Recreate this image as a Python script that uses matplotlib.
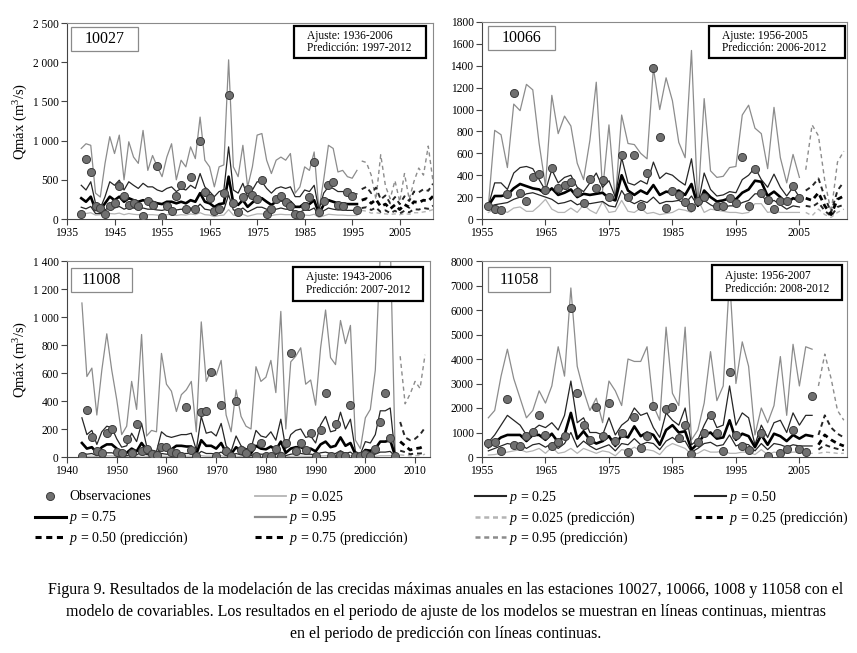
import numpy as np
import matplotlib
matplotlib.use('Agg')
import matplotlib.pyplot as plt
from matplotlib.patches import Rectangle
from matplotlib.lines import Line2D
from matplotlib.ticker import FuncFormatter

plt.rcParams['font.family'] = ['Liberation Serif', 'DejaVu Serif']
plt.rcParams['mathtext.fontset'] = 'custom'
plt.rcParams['mathtext.rm'] = 'Liberation Serif'
plt.rcParams['mathtext.it'] = 'Liberation Serif:italic'

W, H = 857, 653

# ---------------- estación 10027 ----------------
fit1 = list(range(1938, 1997))
p95_1 = [900, 960, 940, 330, 280, 710, 1050, 835, 1070, 500,
         985, 790, 710, 1130, 620, 810, 665, 540, 790, 960,
         500, 750, 665, 920, 770, 1300, 750, 665, 410, 665,
         690, 2030, 665, 540, 940, 410, 665, 1070, 1090, 750,
         580, 750, 790, 750, 835, 330, 410, 665, 620, 855,
         115, 500, 940, 900, 600, 620, 540, 520, 620]
p75_1 = [430, 370, 475, 200, 135, 285, 475, 430, 495, 370,
         475, 430, 390, 455, 410, 410, 370, 350, 390, 410,
         350, 390, 370, 430, 390, 580, 410, 350, 285, 350,
         370, 920, 370, 330, 455, 285, 370, 475, 475, 390,
         330, 390, 410, 390, 410, 285, 285, 370, 350, 430,
         115, 330, 410, 390, 350, 350, 330, 330, 320]
p50_1 = [265, 220, 285, 115, 115, 200, 285, 240, 285, 220,
         265, 240, 220, 240, 220, 220, 200, 190, 220, 220,
         200, 220, 200, 240, 220, 330, 220, 200, 155, 190,
         200, 540, 200, 180, 240, 155, 210, 265, 265, 220,
         180, 220, 240, 220, 220, 155, 155, 200, 190, 240,
         70, 180, 240, 220, 200, 200, 190, 190, 190]
p25_1 = [150, 130, 160, 70, 70, 115, 160, 140, 160, 125,
         150, 140, 125, 140, 125, 125, 115, 110, 125, 125,
         115, 125, 115, 140, 125, 190, 125, 115, 90, 110,
         115, 310, 115, 105, 140, 90, 120, 150, 150, 125,
         105, 125, 140, 125, 125, 90, 90, 115, 110, 140,
         40, 105, 140, 125, 115, 115, 110, 110, 110]
p025_1 = [40, 70, 80, 50, 55, 60, 70, 65, 75, 55,
          70, 60, 55, 65, 55, 55, 50, 45, 55, 60,
          45, 55, 50, 65, 55, 80, 55, 50, 30, 45,
          50, 120, 50, 40, 60, 35, 50, 65, 65, 55,
          45, 55, 60, 55, 55, 35, 35, 50, 45, 60,
          20, 40, 60, 55, 50, 50, 45, 45, 45]
pred1 = list(range(1997, 2013))
pp95_1 = [740, 720, 560, 250, 820, 420, 260, 490, 220, 580, 250, 480, 650, 560, 930, 480]
pp75_1 = [380, 410, 330, 400, 250, 300, 200, 280, 190, 290, 230, 350, 340, 380, 360, 450]
pp50_1 = [240, 260, 200, 250, 160, 190, 130, 180, 120, 185, 150, 220, 210, 240, 230, 290]
pp25_1 = [140, 150, 115, 145, 90, 110, 75, 105, 70, 105, 85, 125, 120, 140, 130, 170]
pp025_1 = [110, 100, 75, 80, 70, 65, 60, 65, 55, 70, 60, 80, 80, 90, 100, 120]
obs1_years = list(range(1938, 1997))
obs1 = [70, 770, 600, 170, 140, 70, 160, 200, 420, 290,
        180, 200, 160, 40, 230, 180, 680, 30, 160, 100,
        290, 440, 130, 530, 130, 1000, 340, 270, 100, 130,
        330, 1580, 200, 90, 280, 380, 300, 260, 500, 60,
        130, 250, 290, 220, 170, 70, 50, 160, 280, 730,
        90, 230, 430, 470, 180, 170, 340, 290, 110]

# ---------------- estación 10066 ----------------
fit2 = list(range(1956, 2006))
p95_2 = [120, 810, 770, 470, 1050, 990, 1230, 1180, 690, 300,
         1130, 780, 940, 850, 510, 360, 720, 1250, 260, 860,
         170, 950, 690, 680, 600, 550, 1380, 1000, 1290, 1080,
         700, 560, 1540, 120, 1100, 440, 380, 390, 470, 480,
         950, 1040, 830, 780, 460, 1020, 560, 330, 590, 380]
p75_2 = [120, 330, 330, 270, 420, 470, 480, 460, 360, 260,
         450, 330, 380, 400, 290, 250, 330, 420, 290, 350,
         200, 560, 330, 310, 350, 320, 520, 370, 420, 400,
         350, 310, 550, 130, 420, 270, 210, 220, 250, 240,
         360, 400, 470, 360, 290, 410, 290, 210, 290, 200]
p50_2 = [120, 210, 210, 220, 280, 320, 300, 280, 270, 230,
         280, 220, 240, 270, 200, 230, 220, 230, 240, 190,
         170, 400, 260, 220, 260, 230, 310, 220, 250, 240,
         260, 220, 320, 120, 260, 200, 160, 170, 190, 180,
         240, 270, 350, 340, 210, 250, 200, 140, 190, 170]
p25_2 = [110, 130, 140, 150, 180, 200, 230, 240, 220, 200,
         180, 140, 150, 170, 130, 150, 140, 150, 160, 120,
         110, 260, 170, 140, 170, 150, 200, 140, 160, 160,
         170, 140, 210, 120, 170, 130, 100, 110, 120, 120,
         150, 170, 230, 230, 140, 170, 130, 90, 120, 110]
p025_2 = [60, 90, 80, 60, 100, 110, 70, 70, 120, 180,
          90, 60, 60, 100, 60, 130, 80, 50, 160, 60,
          70, 170, 70, 60, 100, 50, 60, 40, 50, 60,
          90, 80, 60, 180, 60, 90, 80, 70, 60, 60,
          50, 60, 140, 140, 60, 70, 60, 60, 60, 60]
pred2 = list(range(2006, 2013))
pp95_2 = [450, 860, 760, 350, 60, 520, 620]
pp75_2 = [260, 300, 370, 200, 60, 260, 340]
pp50_2 = [190, 170, 240, 120, 40, 180, 210]
pp25_2 = [120, 110, 150, 75, 25, 110, 130]
pp025_2 = [60, 30, 90, 40, 15, 60, 90]
obs2_years = (list(range(1956, 1976)) + list(range(1977, 1991))
              + list(range(1992, 2006)))
obs2 = [120, 88, 85, 228, 1155, 235, 165, 380, 415, 265,
        470, 280, 310, 340, 250, 150, 370, 280, 355, 200,
        585, 200, 585, 120, 420, 1380, 750, 105, 260, 220,
        155, 110, 160, 200,
        115, 115, 190, 150, 570, 115, 455, 240, 175, 95,
        160, 165, 300, 190]

# ---------------- estación 11008 ----------------
fit3 = list(range(1943, 2007))
p95_3 = [1100, 575, 635, 300, 620, 880, 620, 410, 160, 220,
         540, 340, 875, 150, 190, 180, 740, 520, 470, 325,
         445, 480, 540, 180, 965, 540, 620, 585, 690, 300,
         180, 480, 290, 220, 200, 645, 540, 570, 690, 460,
         1040, 200, 680, 720, 780, 520, 550, 370, 780, 1050,
         710, 660, 975, 810, 940, 120, 60, 280, 340, 620,
         1450, 1600, 1550, 30]
p75_3 = [280, 160, 190, 90, 180, 220, 210, 130, 70, 80,
         170, 110, 240, 80, 50, 40, 180, 150, 140, 150,
         160, 160, 170, 50, 290, 170, 180, 150, 240, 80,
         40, 150, 80, 60, 60, 190, 150, 140, 180, 120,
         270, 60, 160, 190, 200, 140, 150, 100, 230, 290,
         180, 190, 320, 200, 270, 40, 20, 110, 100, 160,
         330, 330, 350, 10]
p50_3 = [100, 60, 70, 30, 70, 90, 90, 60, 30, 30,
         60, 40, 100, 50, 30, 10, 70, 60, 55, 80,
         80, 75, 75, 20, 120, 80, 80, 60, 100, 30,
         20, 70, 40, 25, 25, 80, 60, 55, 75, 50,
         110, 30, 60, 70, 70, 55, 60, 40, 90, 110,
         70, 80, 140, 80, 100, 20, 10, 50, 45, 60,
         110, 110, 120, 5]
p25_3 = [30, 20, 25, 10, 25, 30, 30, 20, 10, 10,
         20, 15, 35, 18, 12, 5, 25, 20, 20, 25,
         25, 25, 25, 8, 40, 25, 25, 20, 35, 10,
         8, 25, 15, 10, 10, 25, 20, 20, 25, 18,
         35, 10, 20, 25, 25, 20, 20, 15, 30, 35,
         25, 25, 45, 25, 35, 8, 5, 18, 15, 20,
         35, 35, 40, 3]
p025_3 = [8, 5, 6, 3, 6, 8, 8, 5, 3, 3,
          5, 4, 9, 5, 3, 1, 6, 5, 5, 6,
          6, 6, 6, 2, 10, 6, 6, 5, 9, 3,
          2, 6, 4, 3, 3, 6, 5, 5, 6, 5,
          9, 3, 5, 6, 6, 5, 5, 4, 8, 9,
          6, 6, 12, 6, 9, 2, 1, 5, 4, 5,
          9, 9, 10, 1]
pred3 = list(range(2007, 2013))
pp95_3 = [720, 380, 450, 540, 490, 730]
pp75_3 = [250, 140, 120, 130, 160, 210]
pp50_3 = [110, 80, 50, 60, 65, 80]
pp25_3 = [45, 35, 20, 25, 25, 30]
pp025_3 = [15, 12, 8, 10, 10, 20]
obs3_years = list(range(1943, 2007))
obs3 = [5, 337, 140, 40, 30, 170, 200, 35, 30, 130,
        30, 235, 40, 60, 25, 15, 70, 75, 35, 28,
        10, 360, 50, 5, 320, 330, 610, 5, 368, 40,
        5, 400, 50, 30, 75, 10, 100, 8, 8, 60,
        8, 100, 740, 40, 100, 50, 170, 5, 195, 460,
        5, 235, 15, 5, 368, 5, 5, 25, 5, 60,
        250, 460, 135, 5]

# ---------------- estación 11058 ----------------
fit4 = list(range(1956, 2008))
p95_4 = [1600, 1900, 3300, 4400, 3200, 2400, 1600, 1900, 2700, 2200,
         2900, 4500, 3300, 6900, 3700, 2700, 1900, 2400, 1400, 3100,
         2700, 2100, 4000, 3900, 3900, 4500, 2100, 1500, 5300, 2600,
         2100, 5300, 700, 1100, 2200, 4300, 2300, 2900, 7300, 3000,
         4700, 3700, 900, 2000, 1400, 2100, 4100, 1700, 4600, 2900,
         4500, 4400]
p75_4 = [600, 900, 1300, 1700, 1500, 1300, 900, 1100, 1300, 1200,
         1400, 1100, 1700, 3100, 1400, 1600, 1000, 1000, 900, 1600,
         900, 1300, 1500, 2000, 1700, 1800, 1200, 800, 1800, 1500,
         1300, 2000, 500, 700, 1300, 1800, 1200, 1300, 2900, 1300,
         1800, 1600, 500, 1300, 800, 1400, 1500, 1000, 1800, 1300,
         1700, 1700]
p50_4 = [400, 600, 800, 900, 900, 900, 650, 900, 900, 700,
         950, 600, 900, 1800, 750, 1050, 700, 550, 650, 850,
         450, 900, 800, 1250, 850, 1000, 900, 500, 1100, 1300,
         1000, 1050, 300, 550, 900, 1000, 750, 800, 1500, 700,
         950, 850, 400, 900, 500, 950, 850, 650, 900, 750,
         900, 850]
p25_4 = [250, 350, 450, 550, 500, 550, 350, 500, 550, 400,
         550, 350, 550, 1000, 400, 650, 450, 300, 400, 500,
         250, 550, 500, 750, 500, 600, 550, 300, 650, 800,
         600, 650, 200, 350, 550, 600, 450, 500, 900, 450,
         550, 500, 250, 550, 300, 550, 500, 400, 500, 450,
         450, 450]
p025_4 = [80, 100, 150, 200, 250, 300, 200, 250, 350, 150,
          400, 150, 200, 350, 150, 350, 250, 150, 250, 200,
          50, 300, 250, 400, 250, 300, 250, 100, 400, 550,
          450, 350, 100, 150, 300, 200, 200, 250, 150, 150,
          200, 200, 100, 300, 100, 200, 150, 150, 200, 200,
          150, 150]
pred4 = list(range(2008, 2013))
pp95_4 = [2900, 4200, 3200, 1900, 1500]
pp75_4 = [900, 1700, 1200, 950, 800]
pp50_4 = [500, 900, 700, 550, 450]
pp25_4 = [300, 500, 400, 330, 280]
pp025_4 = [150, 200, 180, 150, 150]
obs4_years = (list(range(1956, 1983)) + list(range(1984, 1998))
              + [1999, 2000] + list(range(2002, 2008)))
obs4 = [570, 600, 230, 2370, 500, 435, 840, 1040, 1700, 880,
        435, 610, 840, 6100, 2600, 1310, 680, 2060, 840, 2200,
        640, 980, 200, 1650, 370, 870, 2090,
        1970, 2030, 780, 1290, 135, 600, 1000, 1720, 1000, 230,
        3460, 900, 440, 300,
        1000, 50,
        160, 330, 1100, 330, 200, 2470]

C95 = '#8c8c8c'
C025 = '#b4b4b4'
CDK = '#262626'


def px_axes(l, t, r, b):
    return [l / W, 1 - b / H, (r - l) / W, (b - t) / H]


def box(ax, axpx, l, t, r, b, **kw):
    al, at, ar, ab = axpx
    x0 = (l - al) / (ar - al)
    y0 = 1 - (b - at) / (ab - at)
    rect = Rectangle((x0, y0), (r - l) / (ar - al), (b - t) / (ab - at),
                     transform=ax.transAxes, facecolor='white', zorder=5, **kw)
    ax.add_patch(rect)
    return x0, y0, (r - l) / (ar - al), (b - t) / (ab - at)


def panel(axpx, xlim, ylim, yticks, xticks, spaced, station, ajuste, predic,
          fit, q95, q75, q50, q25, q025, pred, r95, r75, r50, r25, r025,
          oy, ov, stbox, infobox, ylabel):
    ax = fig.add_axes(px_axes(*axpx))
    ax.plot(fit, q95, color=C95, lw=0.9, zorder=2)
    ax.plot(fit, q025, color=C025, lw=0.9, zorder=2)
    ax.plot(fit, q25, color=CDK, lw=0.9, zorder=2)
    ax.plot(fit, q75, color=CDK, lw=0.9, zorder=2)
    ax.plot(fit, q50, color='black', lw=1.9, zorder=3)
    ax.plot(pred, r95, color=C95, lw=1.0, ls=(0, (3, 2.5)), zorder=2)
    ax.plot(pred, r025, color=C025, lw=1.0, ls=(0, (3, 2.5)), zorder=2)
    ax.plot(pred, r25, color=CDK, lw=1.4, ls=(0, (2.5, 2)), zorder=2)
    ax.plot(pred, r75, color=CDK, lw=1.4, ls=(0, (2.5, 2)), zorder=2)
    ax.plot(pred, r50, color='black', lw=2.0, ls=(0, (2, 1.5)), zorder=3)
    ax.plot(oy, ov, ls='none', marker='o', ms=5.8, mfc='#707070',
            mec='#3c3c3c', mew=0.7, zorder=4)
    ax.set_xlim(*xlim)
    ax.set_ylim(*ylim)
    ax.set_xticks(xticks)
    ax.set_yticks(yticks)
    if spaced:
        ax.yaxis.set_major_formatter(
            FuncFormatter(lambda v, p: f'{int(v):,}'.replace(',', ' ')))
    else:
        ax.yaxis.set_major_formatter(FuncFormatter(lambda v, p: f'{int(v)}'))
    ax.tick_params(direction='out', length=4, width=0.8, color='#444444',
                   labelsize=8.3, pad=2)
    for s in ['top', 'right']:
        ax.spines[s].set_color('#8a8a8a')
        ax.spines[s].set_linewidth(0.8)
    for s in ['left', 'bottom']:
        ax.spines[s].set_color('#444444')
        ax.spines[s].set_linewidth(0.8)
    if ylabel:
        ax.set_ylabel('Qmáx (m$^3$/s)', fontsize=10.5, labelpad=2)
    x0, y0, w, h = box(ax, axpx, *stbox, edgecolor='#8a8a8a', linewidth=0.9)
    ax.text(x0 + w / 2, y0 + h / 2, station, transform=ax.transAxes,
            ha='center', va='center', fontsize=11.5, zorder=6)
    x0, y0, w, h = box(ax, axpx, *infobox, edgecolor='black', linewidth=1.6)
    ax.text(x0 + 0.035, y0 + h * 0.70, 'Ajuste: ' + ajuste,
            transform=ax.transAxes, ha='left', va='center', fontsize=8.3,
            zorder=6)
    ax.text(x0 + 0.035, y0 + h * 0.32, 'Predicción: ' + predic,
            transform=ax.transAxes, ha='left', va='center', fontsize=8.3,
            zorder=6)
    return ax


fig = plt.figure(figsize=(W / 100, H / 100), dpi=100)

panel((67, 23, 433, 219), (1935, 2012), (0, 2500), range(0, 2501, 500),
      range(1935, 2006, 10), True, '10027', '1936-2006', '1997-2012',
      fit1, p95_1, p75_1, p50_1, p25_1, p025_1,
      pred1, pp95_1, pp75_1, pp50_1, pp25_1, pp025_1,
      obs1_years, obs1, (71, 27, 138, 51), (294, 26, 426, 58), True)

panel((482, 22, 847, 219), (1955, 2012.5), (0, 1800), range(0, 1801, 200),
      range(1955, 2006, 10), False, '10066', '1956-2005', '2006-2012',
      fit2, p95_2, p75_2, p50_2, p25_2, p025_2,
      pred2, pp95_2, pp75_2, pp50_2, pp25_2, pp025_2,
      obs2_years, obs2, (488, 26, 555, 50), (709, 26, 845, 58), False)

panel((67, 261, 430, 457), (1940, 2013), (0, 1400), range(0, 1401, 200),
      range(1940, 2011, 10), True, '11008', '1943-2006', '2007-2012',
      fit3, p95_3, p75_3, p50_3, p25_3, p025_3,
      pred3, pp95_3, pp75_3, pp50_3, pp25_3, pp025_3,
      obs3_years, obs3, (71, 268, 132, 292), (293, 267, 423, 301), True)

panel((482, 261, 847, 457), (1955, 2012.5), (0, 8000), range(0, 8001, 1000),
      range(1955, 2006, 10), False, '11058', '1956-2007', '2008-2012',
      fit4, p95_4, p75_4, p50_4, p25_4, p025_4,
      pred4, pp95_4, pp75_4, pp50_4, pp25_4, pp025_4,
      obs4_years, obs4, (488, 267, 550, 292), (712, 265, 842, 300), False)

# leyenda: cada entrada en su fila y columna, como en el original
dash = (0, (2, 1.5))
obs_h = Line2D([], [], ls='none', marker='o', ms=5.8, mfc='#707070',
               mec='#3c3c3c', mew=0.7)
rows = [
    [(obs_h, 'Observaciones'),
     (Line2D([], [], color=C025, lw=1.3), '$p$ = 0.025'),
     (Line2D([], [], color=CDK, lw=1.5), '$p$ = 0.25'),
     (Line2D([], [], color=CDK, lw=1.5), '$p$ = 0.50')],
    [(Line2D([], [], color='black', lw=2.2), '$p$ = 0.75'),
     (Line2D([], [], color=C95, lw=1.6), '$p$ = 0.95'),
     (Line2D([], [], color=C025, lw=1.8, ls=dash), '$p$ = 0.025 (predicción)'),
     (Line2D([], [], color='black', lw=2.2, ls=dash), '$p$ = 0.25 (predicción)')],
    [(Line2D([], [], color='black', lw=2.2, ls=dash), '$p$ = 0.50 (predicción)'),
     (Line2D([], [], color='black', lw=2.2, ls=dash), '$p$ = 0.75 (predicción)'),
     (Line2D([], [], color=C95, lw=1.8, ls=dash), '$p$ = 0.95 (predicción)')],
]
col_x = [35, 255, 475, 695]
row_y = [497, 518, 538]
for ry, entries in zip(row_y, rows):
    for cx, (hd, lab) in zip(col_x, entries):
        fig.legend([hd], [lab], loc='center left',
                   bbox_to_anchor=(cx / W, 1 - ry / H),
                   frameon=False, fontsize=10, handlelength=2.2,
                   handletextpad=0.25, borderpad=0, borderaxespad=0)

caption = [
    'Figura 9. Resultados de la modelación de las crecidas máximas anuales en las estaciones 10027, 10066, 1008 y 11058 con el',
    'modelo de covariables. Los resultados en el periodo de ajuste de los modelos se muestran en líneas continuas, mientras',
    'en el periodo de predicción con líneas continuas.',
]
for i, line in enumerate(caption):
    fig.text(446 / W, 1 - (590 + 22 * i) / H, line, ha='center', va='center',
             fontsize=11.5)

fig.savefig('out.png', dpi=100)
